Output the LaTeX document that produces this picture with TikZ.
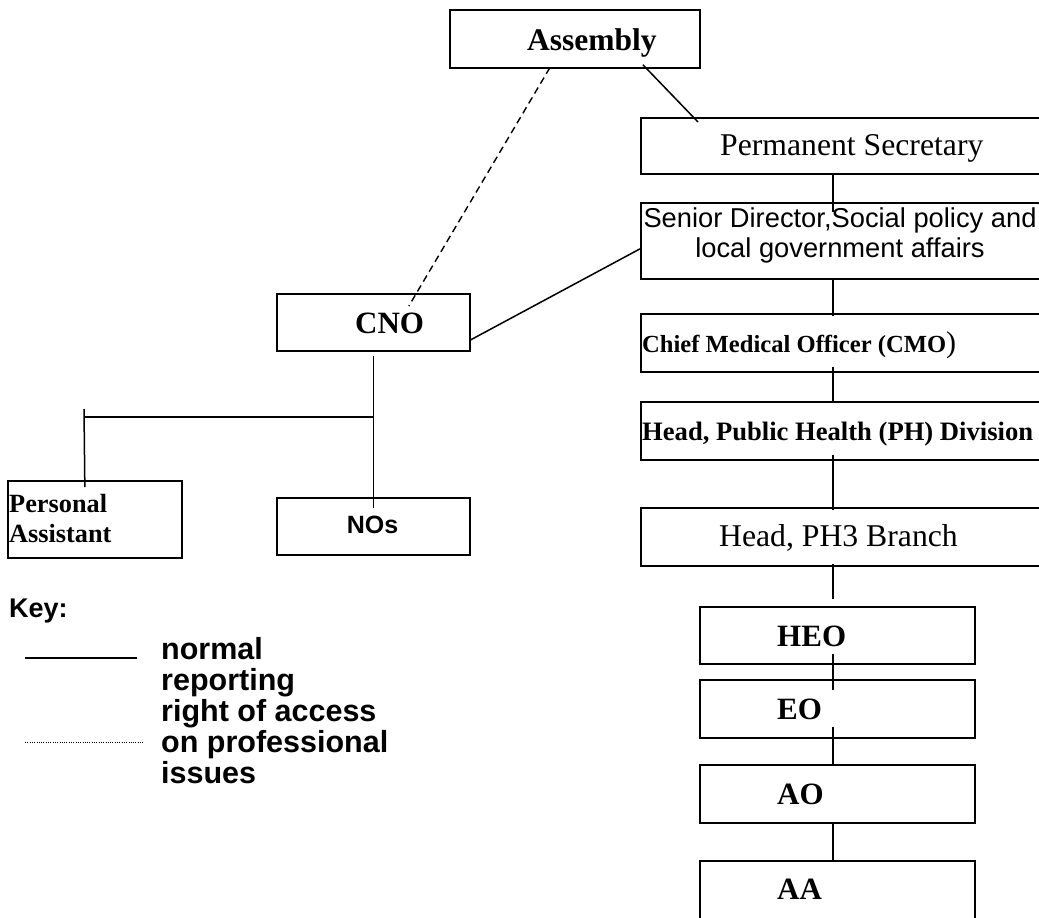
\documentclass[tikz,border=0pt]{standalone}
\usepackage{fontspec}
\setmainfont{Liberation Serif}
\setsansfont{Liberation Sans}
\usetikzlibrary{calc}
\begin{document}
\begin{tikzpicture}[x=1pt,y=-1pt,
  box/.style={draw, line width=1.7pt, inner sep=0pt, anchor=north west},
  link/.style={line width=1.5pt},
  access/.style={line width=1.4pt, dash pattern=on 7pt off 4.5pt},
  txt/.style={inner sep=0pt, anchor=base west},
  ctxt/.style={inner sep=0pt, anchor=base},
  rmB/.style={font=\fontsize{#1}{#1}\selectfont\rmfamily\bfseries},
  rmN/.style={font=\fontsize{#1}{#1}\selectfont\rmfamily},
  sfB/.style={font=\fontsize{#1}{#1}\selectfont\sffamily\bfseries},
  sfN/.style={font=\fontsize{#1}{#1}\selectfont\sffamily}]
\useasboundingbox (0,0) rectangle (1039,918);
\clip (0,0) rectangle (1039,918);

% ---- boxes ----
\node[box, minimum width=250pt, minimum height=58pt] (assembly) at (449,9) {};
\node[box, minimum width=430pt, minimum height=56pt] (ps)  at (640,117) {};
\node[box, minimum width=430pt, minimum height=76pt] (sd)  at (640,202) {};
\node[box, minimum width=430pt, minimum height=58pt] (cmo) at (640,313) {};
\node[box, minimum width=430pt, minimum height=58pt] (ph)  at (640,401) {};
\node[box, minimum width=430pt, minimum height=58pt] (ph3) at (640,507) {};
\node[box, minimum width=275pt, minimum height=57pt] (heo) at (699,606) {};
\node[box, minimum width=275pt, minimum height=58pt] (eo)  at (699,679) {};
\node[box, minimum width=275pt, minimum height=58pt] (ao)  at (699,764) {};
\node[box, minimum width=275pt, minimum height=58pt] (aa)  at (699,860) {};
\node[box, minimum width=193pt, minimum height=57pt] (cno) at (276,293) {};
\node[box, minimum width=174pt, minimum height=77pt] (pa)  at (7,480) {};
\node[box, minimum width=193pt, minimum height=57pt] (nos) at (276,497) {};

% ---- box texts ----
\node[txt, rmB=31.5] (assembly-t) at (527,50) {Assembly};
\node[txt, rmN=31.7] (ps-t) at (720,155) {Permanent Secretary};
\node[ctxt, sfN=27.3] (sd-t1) at (840,227) {Senior Director,Social policy and};
\node[ctxt, sfN=27.3] (sd-t2) at (840,257) {local government affairs};
\node[txt, rmB=24.6] (cmo-t) at (642,352) {Chief Medical Officer (CMO{\fontsize{30}{30}\selectfont\mdseries )}};
\node[txt, rmB=26.6] (ph-t) at (642,440) {Head, Public Health (PH) Division};
\node[txt, rmN=31.7] (ph3-t) at (719,546) {Head, PH3 Branch};
\node[txt, rmB=31] (heo-t) at (777,646) {HEO};
\node[txt, rmB=31] (eo-t)  at (777,719) {EO};
\node[txt, rmB=31] (ao-t)  at (777,804) {AO};
\node[txt, rmB=31] (aa-t)  at (777,899) {AA};
\node[txt, rmB=31] (cno-t) at (355,333) {CNO};
\node[txt, rmB=26.3] (pa-t1) at (9,512) {Personal};
\node[txt, rmB=26.3] (pa-t2) at (9,542) {Assistant};
\node[ctxt, sfB=25] (nos-t) at (372.5,533) {NOs};

% ---- reporting lines (offsets in picture units, y grows downward) ----
\coordinate (spine) at (833,0);
\draw[link] ([shift={(0,-1)}]ps.south -| spine)  -- ([shift={(0,10)}]sd.north -| spine);
\draw[link] ([shift={(0,-1)}]sd.south -| spine)  -- ([shift={(0,3)}]cmo.north -| spine);
\draw[link] ([shift={(0,-6)}]cmo.south -| spine) -- ([shift={(0,1)}]ph.north -| spine);
\draw[link] ([shift={(0,-6)}]ph.south -| spine)  -- ([shift={(0,3)}]ph3.north -| spine);
\draw[link] ([shift={(0,-3)}]ph3.south -| spine) -- ([shift={(0,-7)}]heo.north -| spine);
\draw[link] ([shift={(0,-11)}]heo.south -| spine) -- ([shift={(0,11)}]eo.north -| spine);
\draw[link] ([shift={(0,-12)}]eo.south -| spine) -- (ao.north -| spine);
\draw[link] (ao.south -| spine) -- (aa.north -| spine);

\draw[link] ([shift={(68,-4)}]assembly.south) -- ([shift={(58,5)}]ps.north west);
\draw[link] ([shift={(0,17.5)}]cno.east) -- ([shift={(0,8)}]sd.west);

% CNO and its staff
\coordinate (junction) at (373,417);
\coordinate (pa-top) at (84,409);
\draw[link] ([shift={(0,4)}]cno.south) -- ([shift={(0,11)}]nos.north);
\draw[link] (pa-top |- junction) -- (junction);
\draw[link] (pa-top) -- ([shift={(-10,7)}]pa.north);

% professional access
\draw[access] ([shift={(-25,-1)}]assembly.south) -- ([shift={(35.5,13)}]cno.north);

% ---- key ----
\node[txt, sfB=27] (key) at (9,617) {Key:};
\coordinate (solid-a) at (25,658);
\coordinate (solid-b) at (137,658);
\coordinate (dot-a) at (25,742);
\coordinate (dot-b) at (143,742);
\draw[line width=1.5pt] (solid-a) -- (solid-b);
\draw[line width=1pt, dash pattern=on 1pt off 1.3pt] (dot-a) -- (dot-b);
\node[txt, sfB=30.5] (key-1) at (161,659) {normal};
\node[txt, sfB=30.5] (key-2) at (161,690) {reporting};
\node[txt, sfB=30.5] (key-3) at (161,721) {right of access};
\node[txt, sfB=30.5] (key-4) at (161,752) {on professional};
\node[txt, sfB=30.5] (key-5) at (161,783) {issues};
\end{tikzpicture}
\end{document}
